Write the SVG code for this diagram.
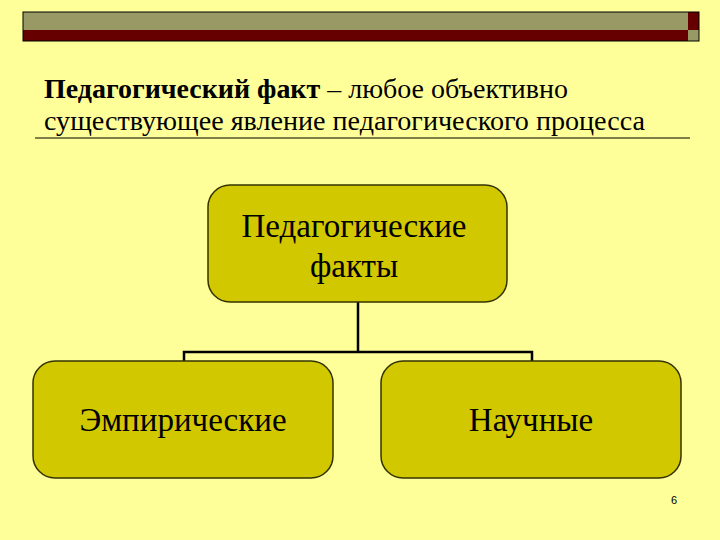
<svg xmlns="http://www.w3.org/2000/svg" width="720" height="540" viewBox="0 0 720 540">
<style>
.box{fill:#d2c800;stroke:#333300;stroke-width:1.5}
.t{font-family:"Liberation Serif",serif;fill:#000}
.c{fill:none;stroke:#000;stroke-width:2.5}
</style>
<rect width="720" height="540" fill="#ffff99"/>
<g id="bar">
<rect x="23" y="12" width="665" height="18" fill="#999966"/>
<rect x="23" y="30" width="665" height="11" fill="#660000"/>
<rect x="688" y="12" width="11" height="18" fill="#660000"/>
<rect x="688" y="30" width="11" height="11" fill="#999966"/>
<rect x="23" y="12" width="676" height="29" fill="none" stroke="#000" stroke-width="1"/>
</g>
<g id="title">
<text class="t" x="44" y="98" font-size="27" textLength="524" lengthAdjust="spacingAndGlyphs"><tspan font-weight="bold">Педагогический факт</tspan> – любое объективно</text>
<text class="t" x="44" y="130" font-size="27" textLength="601" lengthAdjust="spacingAndGlyphs">существующее явление педагогического процесса</text>
<line x1="35" y1="138" x2="690" y2="138" stroke="#000" stroke-width="1"/>
</g>
<g id="connectors">
<path class="c" d="M358 302V352M184 361V352H532V361"/>
</g>
<g id="n0">
<rect class="box" x="208" y="185" width="299" height="117" rx="22"/>
<text class="t" x="354" y="237" font-size="33" text-anchor="middle">Педагогические</text>
<text class="t" x="354" y="277" font-size="33" text-anchor="middle">факты</text>
</g>
<g id="n1">
<rect class="box" x="33" y="361" width="300" height="117" rx="22"/>
<text class="t" x="183" y="431" font-size="33" text-anchor="middle">Эмпирические</text>
</g>
<g id="n2">
<rect class="box" x="381" y="361" width="300" height="117" rx="22"/>
<text class="t" x="531" y="431" font-size="33" text-anchor="middle">Научные</text>
</g>
<text x="671" y="504" font-size="11" font-family="Liberation Sans,sans-serif">6</text>
</svg>
